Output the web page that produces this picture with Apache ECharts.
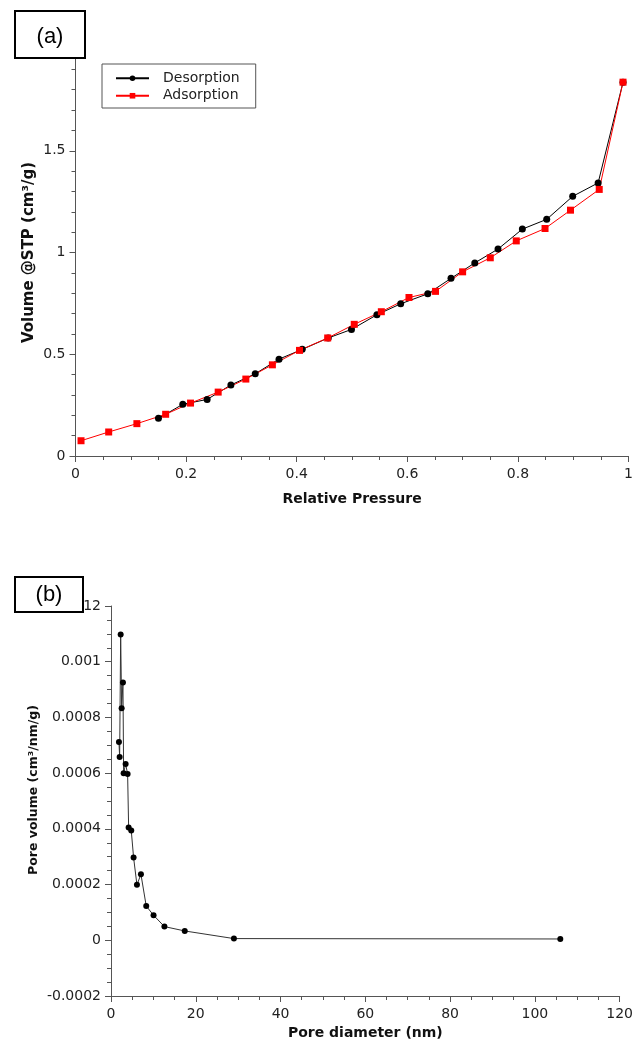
<!DOCTYPE html>
<html>
<head>
<meta charset="utf-8">
<title>Isotherm and pore size distribution</title>
<script src="https://cdn.jsdelivr.net/npm/echarts@6.0.0/dist/echarts.min.js"></script>
<style>
  html, body { margin: 0; padding: 0; background: #fff; }
  #main { width: 636px; height: 1045px; }
</style>
</head>
<body>
<div id="main"></div>
<script>
  // (a) nitrogen isotherm
  var desorptionP = [0.150, 0.194, 0.238, 0.281, 0.325, 0.368, 0.410, 0.457, 0.499, 0.545,
    0.588, 0.637, 0.679, 0.722, 0.764, 0.808, 0.852, 0.899, 0.945, 0.990]
  var desorptionV = [0.185, 0.254, 0.278, 0.349, 0.404, 0.476, 0.524, 0.580, 0.622, 0.694,
    0.748, 0.797, 0.873, 0.949, 1.017, 1.115, 1.163, 1.276, 1.342, 1.837]
  var adsorptionP = [0.010, 0.060, 0.111, 0.163, 0.208, 0.258, 0.308, 0.356, 0.405, 0.456,
    0.504, 0.553, 0.603, 0.651, 0.700, 0.750, 0.797, 0.849, 0.895, 0.947, 0.990]
  var adsorptionV = [0.075, 0.118, 0.159, 0.205, 0.260, 0.314, 0.378, 0.448, 0.519, 0.580,
    0.647, 0.709, 0.779, 0.809, 0.905, 0.974, 1.057, 1.118, 1.208, 1.310, 1.837]

  // (b) pore size distribution
  var poreDiameter = [1.88, 2.04, 2.28, 2.51, 2.82, 2.98, 3.45, 3.92, 4.16, 4.78,
    5.33, 6.12, 7.06, 8.31, 10.04, 12.6, 17.4, 29.0, 106.0]
  var poreVolume = [0.000712, 0.000658, 0.001098, 0.000833, 0.000925, 0.000600, 0.000633, 0.000597, 0.000405, 0.000394,
    0.000297, 0.000199, 0.000237, 0.000123, 0.0000898, 0.0000492, 0.0000335, 0.0000061, 0.0000047]

  var pairs = function (xs, ys) {
    return xs.map(function (x, i) { return [x, ys[i]] })
  }

  var font = 'DejaVu Sans'
  var axisColor = '#555'
  var labelStyle = {color: '#222', fontFamily: font, fontSize: 14}
  var nameStyle = {color: '#111', fontFamily: font, fontSize: 14, fontWeight: 'bold'}

  function baseAxis(extra) {
    var axis = {
      type: 'value',
      axisLine: {show: true, onZero: false, lineStyle: {color: axisColor, width: 1}},
      axisTick: {show: true, inside: false, length: 6, lineStyle: {color: axisColor}},
      minorTick: {show: true, length: 4, lineStyle: {color: axisColor}},
      splitLine: {show: false},
      axisLabel: Object.assign({margin: 10}, labelStyle),
      nameLocation: 'middle',
      nameMoveOverlap: false,
      nameTextStyle: nameStyle
    }
    return Object.assign(axis, extra)
  }

  var clean = function (v) { return String(+v.toFixed(6)) }

  var chart = echarts.init(document.getElementById('main'), null, {renderer: 'canvas'})
  var option = {
    backgroundColor: '#ffffff',
    animation: false,
    grid: [
      {left: 75.5, right: 5.5, top: 49, bottom: 589},
      {left: 111, right: 15, top: 606, bottom: 49}
    ],
    legend: {
      data: ['Desorption', 'Adsorption'],
      orient: 'vertical',
      left: 102,
      top: 64,
      padding: [6, 16, 4, 13],
      itemGap: 1,
      itemWidth: 33,
      itemHeight: 7,
      borderColor: '#555',
      borderWidth: 1,
      backgroundColor: '#fff',
      textStyle: {color: '#222', fontFamily: font, fontSize: 14, padding: [0, 0, 0, 9], lineHeight: 16.5}
    },
    xAxis: [
      baseAxis({
        gridIndex: 0, min: 0, max: 1, interval: 0.2,
        minorTick: {show: true, splitNumber: 4, length: 4, lineStyle: {color: axisColor}},
        name: 'Relative Pressure', nameGap: 36,
        axisLabel: Object.assign({margin: 11, formatter: clean}, labelStyle)
      }),
      baseAxis({
        gridIndex: 1, min: 0, max: 120, interval: 20,
        minorTick: {show: true, splitNumber: 4, length: 4, lineStyle: {color: axisColor}},
        name: 'Pore diameter (nm)', nameGap: 30,
        axisLabel: Object.assign({margin: 11, formatter: clean}, labelStyle)
      })
    ],
    yAxis: [
      baseAxis({
        gridIndex: 0, min: 0, max: 2, interval: 0.5,
        minorTick: {show: true, splitNumber: 5, length: 4, lineStyle: {color: axisColor}},
        name: 'Volume @STP (cm³/g)', nameGap: 39,
        nameTextStyle: Object.assign({}, nameStyle, {fontSize: 15}),
        axisLabel: Object.assign({margin: 10, formatter: clean}, labelStyle)
      }),
      baseAxis({
        gridIndex: 1, min: -0.0002, max: 0.0012, interval: 0.0002,
        minorTick: {show: true, splitNumber: 4, length: 4, lineStyle: {color: axisColor}},
        name: 'Pore volume (cm³/nm/g)', nameGap: 71,
        nameTextStyle: Object.assign({}, nameStyle, {fontSize: 12.5, padding: [0, 0, 0, 22]}),
        axisLabel: Object.assign({margin: 10, formatter: clean}, labelStyle)
      })
    ],
    series: [
      {
        name: 'Desorption',
        type: 'line',
        xAxisIndex: 0, yAxisIndex: 0,
        data: pairs(desorptionP, desorptionV),
        symbol: 'circle',
        symbolSize: 7,
        itemStyle: {color: '#000'},
        lineStyle: {color: '#000', width: 1}
      },
      {
        name: 'Adsorption',
        type: 'line',
        xAxisIndex: 0, yAxisIndex: 0,
        data: pairs(adsorptionP, adsorptionV),
        symbol: 'rect',
        symbolSize: 7,
        itemStyle: {color: '#ff0000'},
        lineStyle: {color: '#ff0000', width: 1}
      },
      {
        name: 'PSD',
        type: 'line',
        xAxisIndex: 1, yAxisIndex: 1,
        data: pairs(poreDiameter, poreVolume),
        symbol: 'circle',
        symbolSize: 6,
        itemStyle: {color: '#000'},
        lineStyle: {color: '#333', width: 1}
      }
    ],
    graphic: [
      {
        type: 'rect', z: 100,
        shape: {x: 15, y: 11, width: 70, height: 47},
        style: {fill: '#fff', stroke: '#000', lineWidth: 2}
      },
      {
        type: 'text', z: 101, x: 50, y: 37,
        style: {text: '(a)', fill: '#000', font: '22px "Liberation Sans"', textAlign: 'center', textVerticalAlign: 'middle'}
      },
      {
        type: 'rect', z: 100,
        shape: {x: 15, y: 577, width: 68, height: 35},
        style: {fill: '#fff', stroke: '#000', lineWidth: 2}
      },
      {
        type: 'text', z: 101, x: 49, y: 595,
        style: {text: '(b)', fill: '#000', font: '22px "Liberation Sans"', textAlign: 'center', textVerticalAlign: 'middle'}
      }
    ]
  }
  chart.setOption(option)
</script>
</body>
</html>
